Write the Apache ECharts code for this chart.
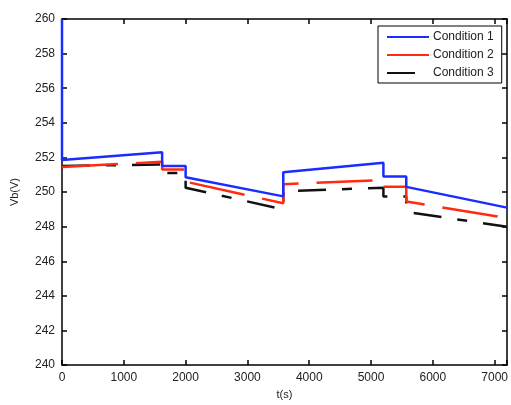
<!DOCTYPE html>
<html>
<head>
<meta charset="utf-8">
<script src="https://cdn.jsdelivr.net/npm/echarts@6/dist/echarts.min.js"></script>
<style>
  html, body { margin: 0; padding: 0; background: #fff; }
  #chart { width: 511px; height: 405px; }
</style>
</head>
<body>
<div id="chart"></div>
<script>
// Battery terminal voltage over time for three operating conditions.
// Repeated time stamps give the vertical steps at each load change.
const times = [0, 0, 1620, 1620, 2000, 2000, 3580, 3580, 5200, 5200, 5570, 5570, 7200];
const cond1 = [260, 251.85, 252.3, 251.5, 251.5, 250.85, 249.75, 251.15, 251.7, 250.9, 250.9, 250.3, 249.1];
const cond2 = [251.45, 251.45, 251.75, 251.3, 251.3, 250.6, 249.35, 250.45, 250.7, 250.3, 250.3, 249.45, 248.5];
const cond3 = [251.5, 251.5, 251.6, 251.1, 251.1, 250.25, 249.0, 250.05, 250.25, 249.75, 249.75, 248.85, 248.0];
const seriesNames = ['Condition 1', 'Condition 2', 'Condition 3'];
const xTicks = [0, 1000, 2000, 3000, 4000, 5000, 6000, 7000];
const yTicks = [240, 242, 244, 246, 248, 250, 252, 254, 256, 258, 260];

const pairs = vals => times.map((t, i) => [t, vals[i]]);

const font = 'Liberation Sans, Arial, sans-serif';
const axisLine = { show: true, onZero: false, lineStyle: { color: '#000', width: 1.5 } };
const axisTick = { show: true, inside: true, length: 5, lineStyle: { color: '#000', width: 1.5 } };

const chart = echarts.init(document.getElementById('chart'), null, { renderer: 'canvas' });
chart.setOption({
  animation: false,
  backgroundColor: '#fff',
  grid: { left: 62, right: 1, top: 19, bottom: 33, containLabel: false },
  legend: {
    data: seriesNames,
    orient: 'vertical',
    left: 378,
    top: 26,
    padding: [5, 8, 4, 8],
    itemWidth: 42,
    itemHeight: 14,
    itemGap: 6,
    backgroundColor: '#fff',
    borderColor: '#000',
    borderWidth: 1,
    itemStyle: { opacity: 0 },
    textStyle: { fontFamily: font, fontSize: 12, color: '#222', padding: [0, 0, 0, -1] }
  },
  xAxis: [
    {
      type: 'value', min: 0, max: 7200, interval: 1000,
      name: 't(s)', nameLocation: 'middle', nameGap: 22,
      nameTextStyle: { fontFamily: font, fontSize: 11, color: '#222' },
      axisLine, axisTick, splitLine: { show: false },
      axisLabel: {
        fontFamily: font, fontSize: 12, color: '#222', margin: 7,
        formatter: v => (xTicks.indexOf(v) >= 0 ? String(v) : '')
      }
    },
    {
      type: 'value', position: 'top', min: 0, max: 7200, interval: 1000,
      axisLine, axisTick, axisLabel: { show: false }, splitLine: { show: false }
    }
  ],
  yAxis: [
    {
      type: 'value', min: 240, max: 260, interval: 2,
      name: 'Vb(V)', nameLocation: 'middle', nameGap: 42,
      nameTextStyle: { fontFamily: font, fontSize: 11, color: '#222' },
      axisLine, axisTick, splitLine: { show: false },
      axisLabel: {
        fontFamily: font, fontSize: 12, color: '#222', margin: 7,
        formatter: v => (yTicks.indexOf(v) >= 0 ? String(v) : '')
      }
    },
    {
      type: 'value', position: 'right', min: 240, max: 260, interval: 2,
      axisLine, axisTick, axisLabel: { show: false }, splitLine: { show: false }
    }
  ],
  series: [
    {
      name: seriesNames[0], type: 'line', data: pairs(cond1),
      showSymbol: false, symbol: 'none', z: 4,
      lineStyle: { color: '#1a2cff', width: 2.5 },
      itemStyle: { color: '#1a2cff' }
    },
    {
      name: seriesNames[1], type: 'line', data: pairs(cond2),
      showSymbol: false, symbol: 'none', z: 3,
      lineStyle: { color: '#ff2a10', width: 2.5, type: [56, 18] },
      itemStyle: { color: '#ff2a10' }
    },
    {
      name: seriesNames[2], type: 'line', data: pairs(cond3),
      showSymbol: false, symbol: 'none', z: 2,
      lineStyle: { color: '#111', width: 2.5, type: [28, 16, 10, 16] },
      itemStyle: { color: '#111' }
    }
  ]
});
</script>
</body>
</html>
